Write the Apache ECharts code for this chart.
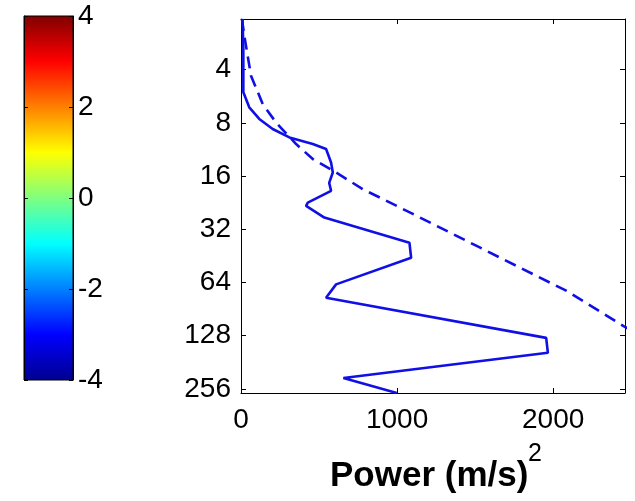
<!DOCTYPE html>
<html>
<head>
<meta charset="utf-8">
<script src="https://cdn.jsdelivr.net/npm/echarts@6/dist/echarts.min.js"></script>
<style>
html,body{margin:0;padding:0;background:#fff;}
#chart{width:635px;height:501px;}
</style>
</head>
<body>
<div id="chart"></div>
<script>
// Global wavelet spectrum (solid) : period vs power
const solidPeriods = [2.07, 3.05, 5.38, 6.54, 7.61, 8.67, 9.68, 10.55, 11.26, 13.41, 15.28, 17.5, 19.4, 22.6, 23.6, 27.5, 38.1, 46.4, 65.6, 78.1, 131.7, 160, 222, 270];
const solidPower   = [10, 15, 15, 53, 117, 203, 310, 460, 545, 577, 588, 565, 577, 428, 417, 534, 1079, 1090, 609, 545, 1955, 1966, 656, 998];
// Significance level (dashed)
const dashPeriods = [2.07, 2.57, 4.33, 6.26, 7.96, 10.55, 12.83, 15.28, 18.99, 21.2, 26.3, 37.3, 52.8, 71.6, 113, 170, 270];
const dashPower   = [6, 21, 64, 139, 224, 353, 460, 609, 780, 891, 1104, 1447, 1788, 2088, 2451, 2800, 3250];
// Axis ranges / ticks
const powerRange = [0, 2460];
const powerTickStep = 1000;
const periodRange = [2.07, 270];
const colorbarRange = [-4, 4];
const colorbarTickStep = 2;
const xTitle = 'Power (m/s)';
const xTitleSup = '2';

const jetStops = [
  [0, '#00008f'], [0.125, '#0000ff'], [0.375, '#00ffff'],
  [0.625, '#ffff00'], [0.875, '#ff0000'], [1, '#800000']
];

const font = 'Liberation Sans, Arial, Helvetica, sans-serif';
const chart = echarts.init(document.getElementById('chart'), null, {renderer: 'canvas'});

const axisLineStyle = {show: true, onZero: false, lineStyle: {color: '#000', width: 1}};
const tickIn = {show: true, inside: true, length: 5, lineStyle: {color: '#000', width: 1}};
const labelStyle = {color: '#000', fontSize: 28, fontFamily: font};
const cbTick = {show: true, inside: true, length: 4, lineStyle: {color: '#000', width: 1}};

const option = {
  backgroundColor: '#ffffff',
  animation: false,
  title: [
    {text: xTitle, left: 325, top: 454,
     textStyle: {fontSize: 35, fontWeight: 'bold', fontFamily: font, color: '#000'}},
    {text: xTitleSup, left: 523, top: 437,
     textStyle: {fontSize: 25, fontWeight: 'normal', fontFamily: font, color: '#000'}}
  ],
  grid: [
    {left: 241, top: 19, width: 384, height: 374, containLabel: false},
    {left: 24, top: 16, width: 49, height: 364, containLabel: false}
  ],
  xAxis: [
    {gridIndex: 0, type: 'value', min: powerRange[0], max: powerRange[1], interval: powerTickStep, position: 'bottom',
     axisLine: axisLineStyle, axisTick: tickIn, splitLine: {show: false},
     axisLabel: Object.assign({margin: 13, showMaxLabel: false, formatter: v => String(v)}, labelStyle)},
    {gridIndex: 0, type: 'value', min: powerRange[0], max: powerRange[1], interval: powerTickStep, position: 'top',
     axisLine: axisLineStyle, axisTick: tickIn, splitLine: {show: false}, axisLabel: {show: false}},
    {gridIndex: 1, type: 'value', min: 0, max: 1, show: false}
  ],
  yAxis: [
    {gridIndex: 0, type: 'log', logBase: 2, min: periodRange[0], max: periodRange[1], inverse: true, position: 'left',
     axisLine: axisLineStyle, axisTick: tickIn, splitLine: {show: false}, minorTick: {show: false},
     axisLabel: Object.assign({margin: 10, showMinLabel: false, showMaxLabel: false,
       formatter: v => String(Math.round(v))}, labelStyle)},
    {gridIndex: 0, type: 'log', logBase: 2, min: periodRange[0], max: periodRange[1], inverse: true, position: 'right',
     axisLine: axisLineStyle, axisTick: tickIn, splitLine: {show: false}, axisLabel: {show: false}},
    {gridIndex: 1, type: 'value', min: colorbarRange[0], max: colorbarRange[1], interval: colorbarTickStep, position: 'right',
     zlevel: 1, axisLine: axisLineStyle, axisTick: cbTick,
     splitLine: {show: false}, axisLabel: Object.assign({margin: 5}, labelStyle)},
    {gridIndex: 1, type: 'value', min: colorbarRange[0], max: colorbarRange[1], interval: colorbarTickStep, position: 'left',
     zlevel: 1, axisLine: axisLineStyle, axisTick: cbTick,
     splitLine: {show: false}, axisLabel: {show: false}}
  ],
  series: [
    {
      type: 'custom', xAxisIndex: 2, yAxisIndex: 2, z: 0,
      data: [[0, 1, colorbarRange[0], colorbarRange[1]]],
      renderItem: function (params, api) {
        const p0 = api.coord([api.value(0), api.value(2)]);
        const p1 = api.coord([api.value(1), api.value(3)]);
        return {
          type: 'rect',
          shape: {x: p0[0], y: p1[1], width: p1[0] - p0[0], height: p0[1] - p1[1]},
          style: {
            fill: new echarts.graphic.LinearGradient(0, 1, 0, 0,
              jetStops.map(s => ({offset: s[0], color: s[1]}))),
            stroke: '#000', lineWidth: 1
          }
        };
      }
    },
    {
      type: 'line', xAxisIndex: 0, yAxisIndex: 0, showSymbol: false, symbol: 'none',
      data: solidPower.map((p, i) => [p, solidPeriods[i]]),
      lineStyle: {color: '#1010e6', width: 2.6, type: 'solid'}, clip: true
    },
    {
      type: 'line', xAxisIndex: 0, yAxisIndex: 0, showSymbol: false, symbol: 'none',
      data: dashPower.map((p, i) => [p, dashPeriods[i]]),
      lineStyle: {color: '#1010e6', width: 2.6, type: [12, 7]}, clip: true
    }
  ]
};
chart.setOption(option);
</script>
</body>
</html>
